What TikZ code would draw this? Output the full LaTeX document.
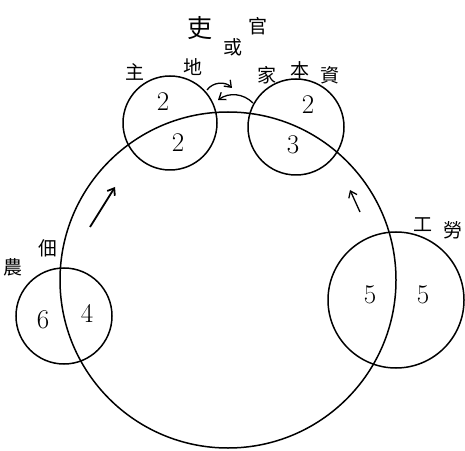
\documentclass[tikz,border=0pt]{standalone}
\usepackage{fontspec}
\usetikzlibrary{arrows.meta}
\newfontfamily\cjk{Noto Sans CJK TC}
\begin{document}
\begin{tikzpicture}[x=1pt,y=1pt,
    ring/.style={draw, circle, line width=1.5pt, inner sep=0pt},
    num/.style={font=\fontsize{27}{27}\selectfont},
    zi/.style={font=\cjk\fontsize{19}{19}\selectfont},
    flow/.style={-{Straight Barb[length=6pt,width=9pt]}, line width=1.3pt}]
    \useasboundingbox (0,0) rectangle (465,450);

    % Circles
    \node[ring, minimum size=336] (economy) at (228,170) {};
    \node[ring, minimum size=94] (landlord) at (170,327) {};
    \node[ring, minimum size=96] (capital) at (296,323) {};
    \node[ring, minimum size=96] (tenant) at (64,134) {};
    \node[ring, minimum size=136] (labour) at (396,150) {};

    % Shares
    \node[num] (landA) at (163,348) {2};
    \node[num] (landB) at (178,307) {2};
    \node[num] (capA) at (308,345) {2};
    \node[num] (capB) at (293,305) {3};
    \node[num] (tenA) at (43,130) {6};
    \node[num] (tenB) at (87,137) {4};
    \node[num] (labA) at (370,155) {5};
    \node[num] (labB) at (423,155) {5};

    % Labels
    \node[zi, font=\cjk\fontsize{25}{25}\selectfont] (li) at (200,422) {吏};
    \node[zi] (huo) at (233,403) {或};
    \node[zi] (guan) at (258,424) {官};
    \node[zi] (zhu) at (135,378) {主};
    \node[zi] (di) at (193,383) {地};
    \node[zi] (jia) at (267,375) {家};
    \node[zi] (ben) at (300,380) {本};
    \node[zi] (zi) at (330,375) {資};
    \node[zi] (gong) at (423,225) {工};
    \node[zi] (lao) at (453,220) {勞};
    \node[zi] (nong) at (13,183) {農};
    \node[zi] (dian) at (48,202) {佃};

    % Flow arrows
    \coordinate (upA) at (90,223);
    \coordinate (upB) at (115,263);
    \coordinate (rtA) at (360,238);
    \coordinate (rtB) at (350,260);
    \coordinate (topA) at (207,360);
    \coordinate (topB) at (232,362);
    \coordinate (topC) at (253,347);
    \coordinate (topD) at (218,350);
    \draw[flow, line width=1.8pt] (upA) -- (upB);
    \draw[flow] (rtA) -- (rtB);
    \draw[flow] (topA) to[bend left=50] (topB);
    \draw[flow] (topC) to[bend right=40] (topD);
\end{tikzpicture}
\end{document}
